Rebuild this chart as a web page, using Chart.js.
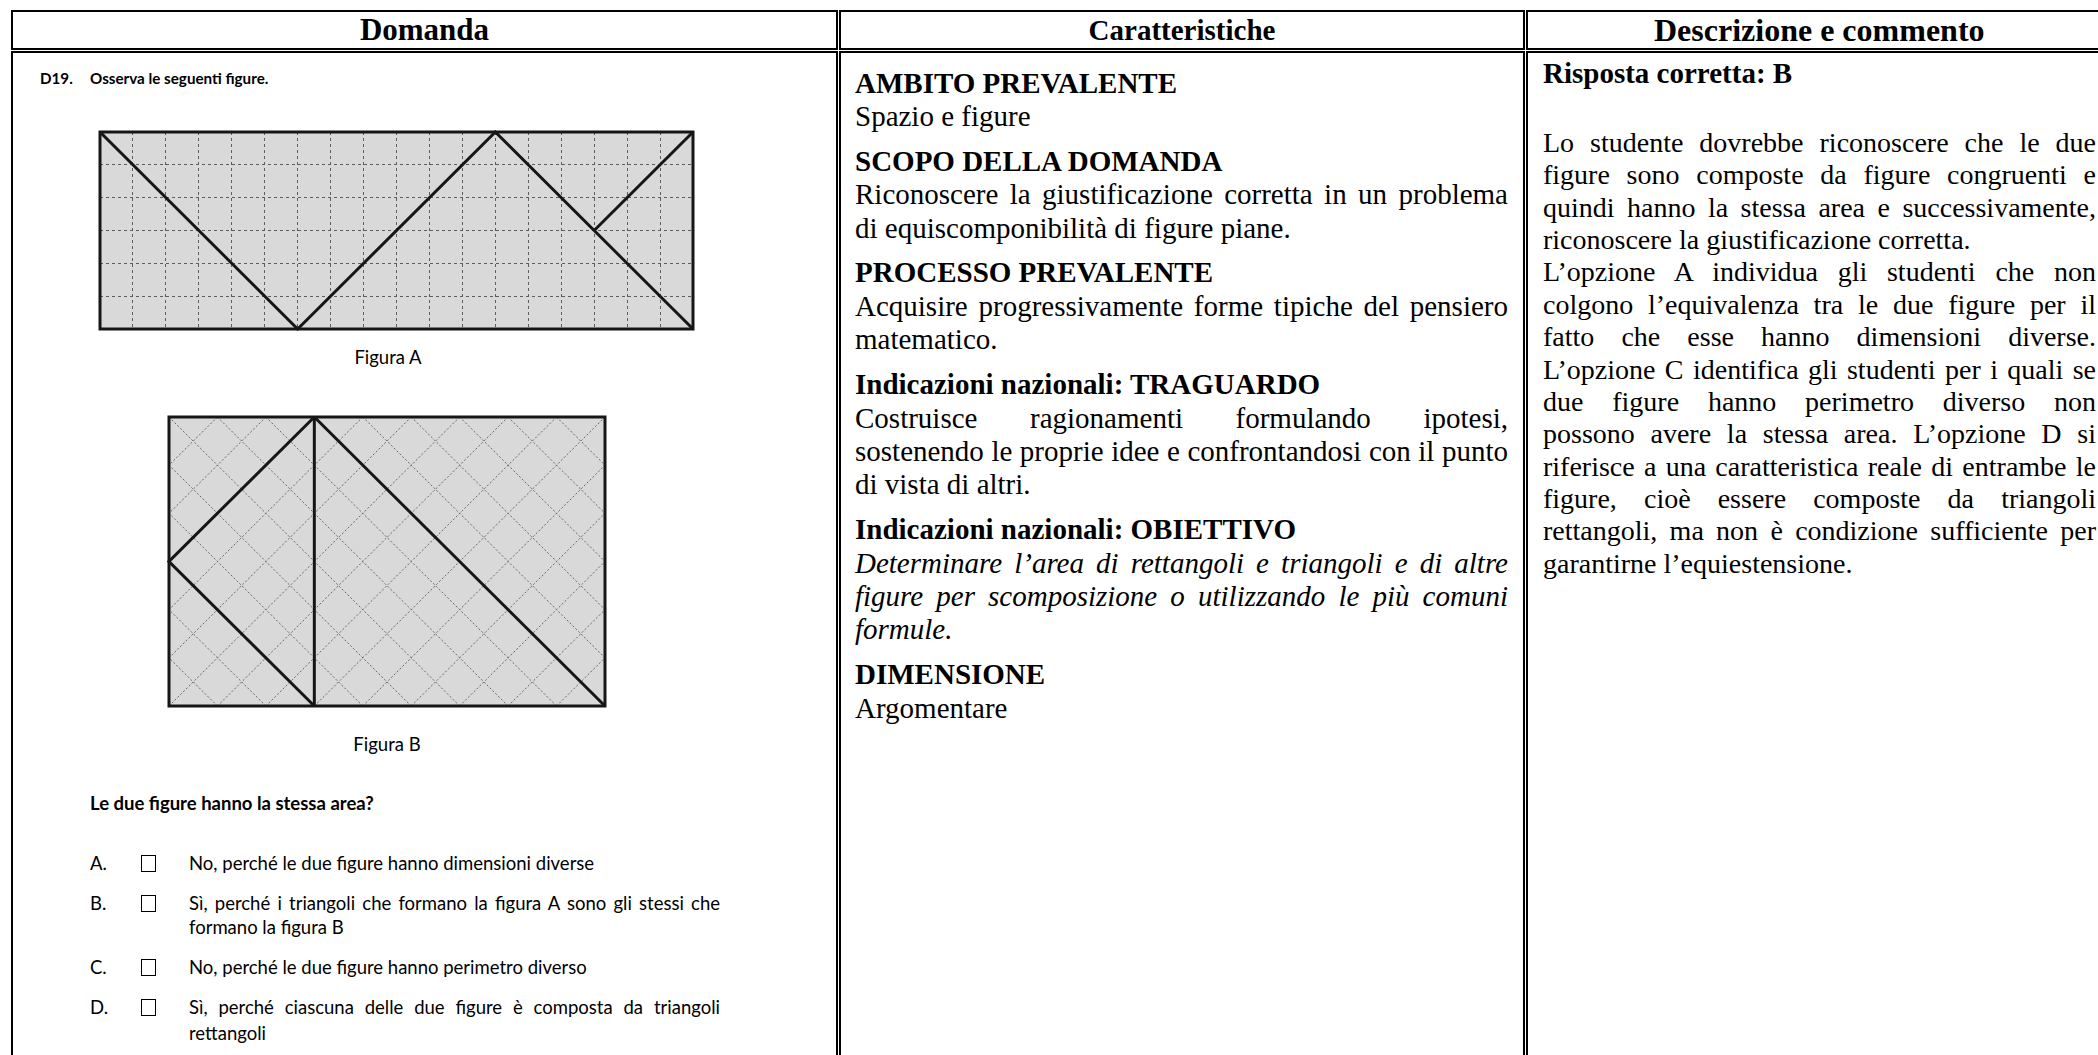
<!DOCTYPE html>
<html lang="it">
<head>
<meta charset="utf-8">
<title>D19 - Figura A e Figura B</title>
<script src="https://cdn.jsdelivr.net/npm/chart.js@4.4.1/dist/chart.umd.min.js"></script>
<style>
  html, body { margin: 0; padding: 0; background: #fff; }
  body {
    width: 2098px; height: 1055px; overflow: hidden; position: relative;
    font-family: "Liberation Serif", "Times New Roman", serif; color: #000;
  }
  .cell { position: absolute; box-sizing: border-box; border: 2px solid #000; }
  .head { top: 10px; height: 40px; font-weight: bold; text-align: center; line-height: 36px; white-space: nowrap; }
  .body { top: 51px; height: 1100px; }
  .c1 { left: 11px; width: 827px; }
  .c2 { left: 839px; width: 686px; }
  .c3 { left: 1526px; width: 640px; }
  .abs { position: absolute; white-space: nowrap; }
  .sans { font-family: Lato, "Open Sans", sans-serif; font-size: 18.5px; line-height: 24px; }
  .j { text-align: justify; text-align-last: justify; white-space: normal; }
  .box { position: absolute; width: 15px; height: 17px; border: 1.3px solid #000; box-sizing: border-box; }
  .col2 { position: absolute; left: 855px; top: 66.5px; width: 653px; font-size: 29px; line-height: 33.4px; }
  .col2 .h { font-weight: bold; margin-top: 11.5px; }
  .col2 .h:first-child { margin-top: 0; }
  .col3 { position: absolute; left: 1543px; width: 553px; font-size: 28px; line-height: 32.4px; }
  .line { height: 33.4px; }
  .col3 .line { height: 32.4px; }
  .fig { position: absolute; }
</style>
</head>
<body>

<div class="cell head c1" style="font-size:31px">Domanda</div>
<div class="cell head c2" style="font-size:29px">Caratteristiche</div>
<div class="cell head c3" style="font-size:32px; text-align:left; padding-left:126px">Descrizione e commento</div>

<div class="cell body c1"></div>
<div class="cell body c2"></div>
<div class="cell body c3"></div>

<!-- colonna Domanda -->
<div class="abs sans" style="left:40px; top:66px; font-weight:bold; font-size:15.2px">D19.</div>
<div class="abs sans" style="left:90px; top:66px; font-weight:bold; font-size:15.2px">Osserva le seguenti figure.</div>

<div class="fig" style="left:98px; top:130px; width:597px; height:201px"><canvas id="figA"></canvas></div>
<div class="abs sans" style="left:288px; top:345px; width:200px; text-align:center">Figura A</div>

<div class="fig" style="left:167px; top:415px; width:440px; height:293px"><canvas id="figB"></canvas></div>
<div class="abs sans" style="left:287px; top:732px; width:200px; text-align:center">Figura B</div>

<div class="abs sans" style="left:90px; top:791px; font-weight:bold">Le due figure hanno la stessa area?</div>

<div class="abs sans" style="left:90px; top:851px">A.</div>
<div class="box" style="left:141px; top:855px"></div>
<div class="abs sans" style="left:189px; top:851px">No, perché le due figure hanno dimensioni diverse</div>

<div class="abs sans" style="left:90px; top:891px">B.</div>
<div class="box" style="left:141px; top:895px"></div>
<div class="abs sans j" style="left:189px; top:891px; width:531px">Sì, perché i triangoli che formano la figura A sono gli stessi che</div>
<div class="abs sans" style="left:189px; top:915px">formano la figura B</div>

<div class="abs sans" style="left:90px; top:955px">C.</div>
<div class="box" style="left:141px; top:959px"></div>
<div class="abs sans" style="left:189px; top:955px">No, perché le due figure hanno perimetro diverso</div>

<div class="abs sans" style="left:90px; top:995px">D.</div>
<div class="box" style="left:141px; top:999px"></div>
<div class="abs sans j" style="left:189px; top:995px; width:531px">Sì, perché ciascuna delle due figure è composta da triangoli</div>
<div class="abs sans" style="left:189px; top:1021px">rettangoli</div>

<!-- colonna Caratteristiche -->
<div class="col2">
  <div class="line h">AMBITO PREVALENTE</div>
  <div class="line">Spazio e figure</div>
  <div class="line h">SCOPO DELLA DOMANDA</div>
  <div class="line j">Riconoscere la giustificazione corretta in un problema</div>
  <div class="line">di equiscomponibilità di figure piane.</div>
  <div class="line h">PROCESSO PREVALENTE</div>
  <div class="line j">Acquisire progressivamente forme tipiche del pensiero</div>
  <div class="line">matematico.</div>
  <div class="line h">Indicazioni nazionali: TRAGUARDO</div>
  <div class="line j">Costruisce ragionamenti formulando ipotesi,</div>
  <div class="line j">sostenendo le proprie idee e confrontandosi con il punto</div>
  <div class="line">di vista di altri.</div>
  <div class="line h">Indicazioni nazionali: OBIETTIVO</div>
  <div class="line j"><i>Determinare l’area di rettangoli e triangoli e di altre</i></div>
  <div class="line j"><i>figure per scomposizione o utilizzando le più comuni</i></div>
  <div class="line"><i>formule.</i></div>
  <div class="line h">DIMENSIONE</div>
  <div class="line">Argomentare</div>
</div>

<!-- colonna Descrizione e commento -->
<div class="col3" style="top:57.4px; font-size:29px"><div class="line" style="font-weight:bold">Risposta corretta: B</div></div>
<div class="col3" style="top:126.8px">
  <div class="line j">Lo studente dovrebbe riconoscere che le due</div>
  <div class="line j">figure sono composte da figure congruenti e</div>
  <div class="line j">quindi hanno la stessa area e successivamente,</div>
  <div class="line">riconoscere la giustificazione corretta.</div>
  <div class="line j">L’opzione A individua gli studenti che non</div>
  <div class="line j">colgono l’equivalenza tra le due figure per il</div>
  <div class="line j">fatto che esse hanno dimensioni diverse.</div>
  <div class="line j">L’opzione C identifica gli studenti per i quali se</div>
  <div class="line j">due figure hanno perimetro diverso non</div>
  <div class="line j">possono avere la stessa area. L’opzione D si</div>
  <div class="line j">riferisce a una caratteristica reale di entrambe le</div>
  <div class="line j">figure, cioè essere composte da triangoli</div>
  <div class="line j">rettangoli, ma non è condizione sufficiente per</div>
  <div class="line">garantirne l’equiestensione.</div>
</div>

<script>
// Figura A: rettangolo di 18 x 6 quadretti
const colsA = 18;
const rowsA = 6;
const zigzagAx = [0, 6, 12, 18];
const zigzagAy = [6, 0, 6, 0];
const branchAx = [18, 15];
const branchAy = [6, 3];

// Figura B: base 9, altezza 6 (unità della quadrettatura obliqua)
const colsB = 9;
const rowsB = 6;
const leftBx = [3, 0, 3];
const leftBy = [6, 3, 0];
const splitBx = [3, 3];
const splitBy = [0, 6];
const diagBx = [3, 9];
const diagBy = [6, 0];

const INK = '#161616';

function toPoints(xs, ys) {
  return xs.map((x, i) => ({ x: x, y: ys[i] }));
}

function segment(xs, ys) {
  return {
    data: toPoints(xs, ys),
    showLine: true,
    borderColor: INK,
    borderWidth: 3,
    pointRadius: 0,
    tension: 0,
    fill: false,
    clip: false,
  };
}

// sfondo grigio e cornice del rettangolo
const paperPlugin = {
  id: 'paper',
  beforeDraw(chart) {
    const { ctx, chartArea: a } = chart;
    ctx.save();
    ctx.fillStyle = '#d9d9d9';
    ctx.fillRect(a.left, a.top, a.width, a.height);
    ctx.restore();
  },
  afterDraw(chart) {
    const { ctx, chartArea: a } = chart;
    ctx.save();
    ctx.strokeStyle = INK;
    ctx.lineWidth = 3;
    ctx.strokeRect(a.left, a.top, a.width, a.height);
    ctx.restore();
  },
};

// quadrettatura a 45 gradi della figura B
const hatchPlugin = {
  id: 'hatch',
  beforeDatasetsDraw(chart) {
    const { ctx, chartArea: a, scales: { x, y } } = chart;
    ctx.save();
    ctx.beginPath();
    ctx.rect(a.left, a.top, a.width, a.height);
    ctx.clip();
    ctx.strokeStyle = '#666';
    ctx.lineWidth = 1;
    ctx.setLineDash([2, 2]);
    const line = (x1, y1, x2, y2) => {
      ctx.beginPath();
      ctx.moveTo(x.getPixelForValue(x1), y.getPixelForValue(y1));
      ctx.lineTo(x.getPixelForValue(x2), y.getPixelForValue(y2));
      ctx.stroke();
    };
    for (let k = -rowsB; k <= colsB + rowsB; k++) {
      line(k, 0, k + rowsB, rowsB);
      line(k, 0, k - rowsB, rowsB);
    }
    ctx.restore();
  },
};

function axis(max, showGrid) {
  return {
    type: 'linear',
    min: 0,
    max: max,
    display: showGrid,
    ticks: { display: false, stepSize: 1, autoSkip: false },
    grid: { color: '#5e5e5e', lineWidth: 1, drawTicks: false },
    border: { display: false, dash: [3, 3] },
  };
}

function baseOptions(xMax, yMax, showGrid) {
  return {
    responsive: true,
    maintainAspectRatio: false,
    animation: false,
    events: [],
    layout: { padding: 2 },
    plugins: { legend: { display: false }, tooltip: { enabled: false } },
    scales: { x: axis(xMax, showGrid), y: axis(yMax, showGrid) },
  };
}

new Chart(document.getElementById('figA'), {
  type: 'scatter',
  data: { datasets: [segment(zigzagAx, zigzagAy), segment(branchAx, branchAy)] },
  options: baseOptions(colsA, rowsA, true),
  plugins: [paperPlugin],
});

new Chart(document.getElementById('figB'), {
  type: 'scatter',
  data: { datasets: [segment(leftBx, leftBy), segment(splitBx, splitBy), segment(diagBx, diagBy)] },
  options: baseOptions(colsB, rowsB, false),
  plugins: [paperPlugin, hatchPlugin],
});
</script>
</body>
</html>
